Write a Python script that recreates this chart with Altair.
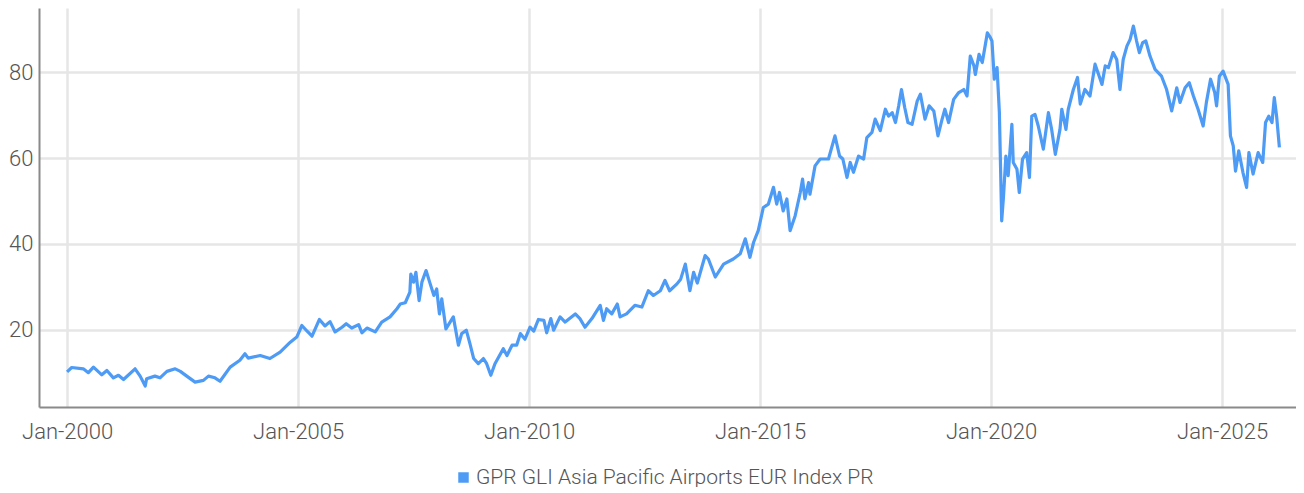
import altair as alt
import pandas as pd

series_name = "GPR GLI Asia Pacific Airports EUR Index PR"
tick_years = [2000, 2005, 2010, 2015, 2020, 2025]
y_ticks = [20, 40, 60, 80]

# decimal-year positions
years = [
    2000.00, 2000.10, 2000.35, 2000.46, 2000.57, 2000.75, 2000.86, 2001.00, 2001.11, 2001.22,
    2001.47, 2001.58, 2001.69, 2001.72, 2001.90, 2002.01, 2002.16, 2002.34, 2002.45, 2002.59,
    2002.77, 2002.95, 2003.06, 2003.20, 2003.31, 2003.53, 2003.74, 2003.85, 2003.92, 2004.18,
    2004.39, 2004.61, 2004.83, 2004.97, 2005.08, 2005.20, 2005.30, 2005.46, 2005.58, 2005.69,
    2005.80, 2005.95, 2006.04, 2006.16, 2006.31, 2006.38, 2006.49, 2006.67, 2006.81, 2006.99,
    2007.14, 2007.21, 2007.32, 2007.42, 2007.44, 2007.50, 2007.55, 2007.62, 2007.68, 2007.77,
    2007.86, 2007.94, 2008.00, 2008.06, 2008.11, 2008.20, 2008.36, 2008.47, 2008.54, 2008.64,
    2008.72, 2008.80, 2008.90, 2009.01, 2009.08, 2009.17, 2009.26, 2009.44, 2009.52, 2009.63,
    2009.73, 2009.81, 2009.91, 2010.02, 2010.10, 2010.20, 2010.32, 2010.38, 2010.47, 2010.53,
    2010.67, 2010.78, 2011.00, 2011.10, 2011.21, 2011.36, 2011.54, 2011.61, 2011.68, 2011.79,
    2011.91, 2011.97, 2012.11, 2012.29, 2012.44, 2012.58, 2012.69, 2012.84, 2012.94, 2013.04,
    2013.20, 2013.28, 2013.38, 2013.48, 2013.56, 2013.64, 2013.81, 2013.88, 2014.03, 2014.21,
    2014.42, 2014.57, 2014.68, 2014.78, 2014.86, 2014.96, 2015.07, 2015.18, 2015.29, 2015.36,
    2015.42, 2015.50, 2015.58, 2015.65, 2015.76, 2015.87, 2015.92, 2015.97, 2016.05, 2016.08,
    2016.19, 2016.30, 2016.48, 2016.62, 2016.72, 2016.79, 2016.88, 2016.95, 2017.02, 2017.13,
    2017.24, 2017.31, 2017.42, 2017.49, 2017.60, 2017.71, 2017.78, 2017.86, 2017.93, 2018.00,
    2018.06, 2018.13, 2018.20, 2018.29, 2018.40, 2018.47, 2018.57, 2018.66, 2018.76, 2018.85,
    2018.94, 2019.00, 2019.08, 2019.19, 2019.30, 2019.41, 2019.48, 2019.55, 2019.63, 2019.66,
    2019.74, 2019.81, 2019.92, 2019.97, 2020.02, 2020.07, 2020.13, 2020.18, 2020.23, 2020.27,
    2020.32, 2020.37, 2020.45, 2020.48, 2020.56, 2020.61, 2020.68, 2020.77, 2020.83, 2020.88,
    2020.95, 2021.02, 2021.13, 2021.24, 2021.31, 2021.39, 2021.49, 2021.53, 2021.62, 2021.67,
    2021.78, 2021.87, 2021.93, 2022.03, 2022.14, 2022.25, 2022.34, 2022.40, 2022.47, 2022.54,
    2022.64, 2022.72, 2022.79, 2022.86, 2022.94, 2023.01, 2023.08, 2023.15, 2023.21, 2023.28,
    2023.35, 2023.44, 2023.55, 2023.69, 2023.80, 2023.91, 2024.02, 2024.09, 2024.20, 2024.29,
    2024.38, 2024.48, 2024.59, 2024.66, 2024.75, 2024.84, 2024.88, 2024.94, 2025.02, 2025.13,
    2025.18, 2025.24, 2025.29, 2025.36, 2025.45, 2025.53, 2025.58, 2025.67, 2025.78, 2025.88,
    2025.94, 2026.01, 2026.08, 2026.13, 2026.18, 2026.24,
]

values = [
    10.2, 11.2, 10.9, 10.0, 11.3, 9.5, 10.5, 8.8, 9.4, 8.4,
    10.9, 9.2, 6.9, 8.6, 9.2, 8.8, 10.3, 10.9, 10.3, 9.2,
    7.8, 8.2, 9.2, 8.8, 8.0, 11.3, 12.9, 14.4, 13.4, 14.0,
    13.3, 14.8, 17.1, 18.3, 21.0, 19.6, 18.5, 22.4, 20.9, 21.9,
    19.5, 20.6, 21.4, 20.4, 21.2, 19.3, 20.4, 19.5, 21.8, 23.0,
    24.9, 26.0, 26.3, 28.8, 33.0, 31.1, 33.4, 26.8, 31.1, 33.8,
    30.7, 28.0, 29.5, 23.7, 27.2, 20.2, 23.0, 16.4, 19.1, 19.9,
    16.7, 13.3, 12.1, 13.3, 12.1, 9.4, 12.1, 15.6, 14.0, 16.4,
    16.4, 19.1, 17.8, 20.6, 19.7, 22.4, 22.2, 19.3, 22.6, 19.9,
    23.0, 21.8, 23.7, 22.6, 20.6, 22.6, 25.7, 22.2, 24.9, 23.7,
    26.0, 23.0, 23.7, 25.7, 25.3, 29.1, 28.0, 29.1, 31.5, 29.1,
    30.7, 31.8, 35.3, 29.1, 33.4, 30.9, 37.3, 36.5, 32.3, 35.3,
    36.5, 37.7, 41.2, 36.9, 40.4, 43.1, 48.5, 49.3, 53.2, 49.3,
    52.0, 47.7, 50.5, 43.1, 46.6, 52.0, 55.1, 50.5, 54.3, 51.6,
    58.2, 59.8, 59.8, 65.2, 60.5, 59.8, 55.5, 59.0, 56.7, 60.5,
    59.8, 64.8, 66.0, 69.1, 66.4, 71.4, 69.8, 70.6, 68.3, 72.2,
    76.0, 71.8, 68.3, 67.9, 73.3, 74.9, 69.1, 72.2, 71.0, 65.2,
    69.1, 71.4, 68.3, 73.7, 75.3, 76.0, 74.5, 83.8, 81.5, 79.5,
    84.2, 82.3, 89.2, 88.4, 87.3, 78.4, 81.1, 70.6, 45.4, 51.2,
    60.5, 55.9, 67.9, 59.0, 57.4, 52.0, 59.8, 61.3, 55.5, 69.8,
    70.2, 67.5, 62.1, 70.6, 66.7, 60.9, 66.7, 71.4, 66.7, 71.4,
    76.0, 78.8, 72.6, 76.0, 74.5, 81.9, 79.1, 77.2, 81.5, 81.1,
    84.6, 83.0, 76.0, 83.0, 86.1, 87.7, 90.8, 87.3, 84.6, 86.9,
    87.3, 83.8, 80.7, 79.1, 76.0, 71.0, 76.4, 73.0, 76.4, 77.6,
    74.5, 71.4, 67.5, 73.0, 78.4, 75.3, 72.2, 79.1, 80.3, 77.2,
    65.2, 62.9, 57.0, 61.7, 56.7, 53.2, 61.3, 56.3, 61.3, 59.0,
    68.3, 69.8, 68.3, 74.1, 69.8, 62.5,
]

BLUE = "#4d9bf5"
FONT = "Roboto, DejaVu Sans Condensed, sans-serif"
WEIGHT = 300
LABEL = "#555555"


def to_date(y):
    yr = int(y)
    start = pd.Timestamp(year=yr, month=1, day=1)
    end = pd.Timestamp(year=yr + 1, month=1, day=1)
    return (start + (end - start) * (y - yr)).strftime("%Y-%m-%dT%H:%M:%S")


df = pd.DataFrame({
    "date": [to_date(y) for y in years],
    "value": values,
    "series": series_name,
})

common = dict(
    title=None,
    ticks=False,
    domainColor="#8a8a8a",
    domainWidth=2,
    grid=True,
    gridColor="#e6e6e6",
    gridWidth=2.5,
    labelFont=FONT,
    labelFontWeight=WEIGHT,
    labelFontSize=22,
    labelColor=LABEL,
)

x_axis = alt.Axis(
    values=[alt.DateTime(year=y, month=1, date=1) for y in tick_years],
    format="%b-%Y",
    labelPadding=14,
    **common,
)

y_axis = alt.Axis(values=y_ticks, labelPadding=6, **common)

chart = alt.Chart(df).mark_line(strokeWidth=3.2, strokeJoin="round").encode(
    x=alt.X(
        "date:T",
        scale=alt.Scale(domain=[alt.DateTime(year=1999, month=5, date=24),
                                alt.DateTime(year=2026, month=8, date=8)]),
        axis=x_axis,
    ),
    y=alt.Y("value:Q", scale=alt.Scale(domain=[2, 95], nice=False, zero=False), axis=y_axis),
    color=alt.Color(
        "series:N",
        scale=alt.Scale(range=[BLUE]),
        legend=alt.Legend(
            title=None,
            orient="none",
            legendX=414,
            legendY=459,
            direction="horizontal",
            symbolType="square",
            symbolSize=110,
            symbolFillColor=BLUE,
            symbolStrokeWidth=0,
            labelFont=FONT,
            labelFontWeight=WEIGHT,
            labelFontSize=21,
            labelColor=LABEL,
            labelOffset=2,
            labelLimit=0,
            padding=0,
        ),
    ),
).properties(
    width=1257,
    height=399,
    autosize=alt.AutoSizeParams(type="none"),
    padding={"left": 31, "top": 0, "right": 0, "bottom": 80},
).configure_view(stroke=None)

chart.save("out.html", embed_options={"renderer": "svg", "actions": False})
